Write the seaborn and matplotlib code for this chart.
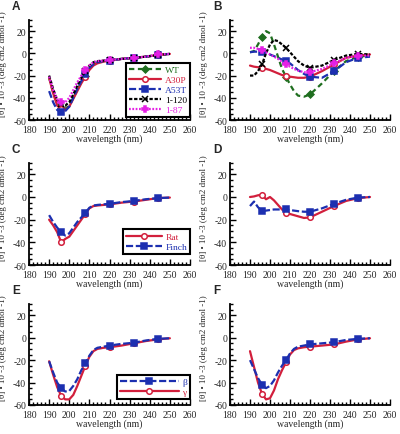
import seaborn as sns
from matplotlib import pyplot as plt
from matplotlib.lines import Line2D
from matplotlib.ticker import MultipleLocator

# wavelengths (nm) at which the curves were read, markers every 12 nm
wl = [190, 192, 194, 196, 198, 200, 202, 204, 206, 208, 210, 212, 214, 217, 220, 226, 232, 238, 244, 250]
mark_wl = [196, 208, 220, 232, 244]

# panel A: full-length protein variants
a_wt = [-22, -35, -45, -49, -50, -47, -40, -33, -26, -20, -14, -10, -8, -7, -6, -5, -4, -3, -1, -0.5]
a_a30p = [-22, -36, -47, -50, -51, -48, -41, -34, -27, -21, -15, -11, -9, -7.5, -6.5, -5, -4, -3, -1.5, -0.5]
a_a53t = [-34, -44, -51, -53, -52, -48, -40, -32, -25, -19, -13, -10, -8, -7, -6.5, -5, -4, -3, -1.5, -0.5]
a_120 = [-20, -32, -42, -46, -47, -44, -37, -29, -22, -16, -11, -8, -7, -6.5, -6, -5, -4, -3, -1.5, -0.5]
a_87 = [-21, -33, -41, -44, -44, -40, -33, -26, -20, -15, -11, -8, -7, -6.5, -6, -5, -4, -3, -1, -0.5]

# panel B
b_wt = [1, 2, 8, 15, 20, 18, 8, -3, -14, -21, -28, -34, -38, -39, -37, -27, -16, -7, -3, -2]
b_a30p = [-11, -12, -12.5, -13, -14, -15, -16.5, -18, -19.5, -20.5, -21, -21.5, -22, -22, -21, -16, -10, -4, -2, -1]
b_a53t = [1, 1.5, 1.5, 1, 0, -1, -2.5, -4, -5.5, -7, -9, -12, -15, -18.5, -21, -22, -16, -8, -4, -3]
b_120 = [-20, -20, -16, -10, 0, 8, 12, 11, 8, 5, 1, -3, -7, -11, -13, -11, -6, -2, -0.5, -1]
b_87 = [5, 5, 4, 3, 1, -1, -3, -5, -7.5, -10, -12, -14, -15.5, -17, -17, -14, -9, -4, -2, -2]

# panel C / D: rat vs finch
c_rat = [-20, -25, -31, -40, -37, -35, -30, -25, -20, -15, -10, -8, -7.5, -7, -6.5, -5, -4, -2.5, -1, -0.5]
c_finch = [-16, -22, -27, -31, -34, -32, -27, -22, -18, -14, -9.5, -7.5, -7, -6.5, -6, -4.5, -3.5, -2, -1, -0.5]
d_rat = [0, 0.5, 1.5, 2, -2, 0, -3, -7, -11, -14, -15, -16, -17, -18.5, -18, -13, -8, -3.5, -1, 0]
d_finch = [-8, -4, -9, -12.5, -12, -11.5, -11, -11, -11, -11, -11.5, -12, -12.5, -13, -13, -10, -6, -2.5, -0.5, 0]

# panel E / F: beta vs gamma
e_beta = [-21, -31, -40, -45, -48, -47.5, -43, -37, -29, -23, -16, -11, -9, -8, -7, -5.5, -4.5, -2.5, -1, -0.5]
e_gamma = [-21, -33, -44, -52, -55, -55, -51, -43, -34, -25, -17, -12, -10, -9, -8.5, -7, -5, -3, -1.5, -0.5]
f_beta = [-20, -28, -36, -42, -45, -43, -38, -31, -25, -20, -14, -10, -8, -7, -6, -5, -4, -2, -1, -0.5]
f_gamma = [-12, -26, -40, -50, -55, -54, -47, -37, -29, -22, -15, -11, -9.5, -8.5, -8, -7, -6, -3.5, -1.5, -0.5]

GREEN = '#1f6e1f'
RED = '#d21f3c'
BLUE = '#1c2fb0'
MAGENTA = '#e51fe5'

styles = {
    'WT': dict(color=GREEN, linestyle=(0, (2.4, 1.6)), marker='D', ms=3.5, mfc=GREEN, mec=GREEN),
    'A30P': dict(color=RED, linestyle='-', marker='o', ms=4, mfc='white', mec=RED),
    'A53T': dict(color=BLUE, linestyle=(0, (3.2, 1.2)), marker='s', ms=4, mfc=BLUE, mec=BLUE),
    '1-120': dict(color='black', linestyle=(0, (1.5, 0.8)), marker='x', ms=4, mfc='black', mec='black'),
    '1-87': dict(color=MAGENTA, linestyle=(0, (0.8, 0.7)), marker='P', ms=4.5, mfc=MAGENTA, mec=MAGENTA),
}
styles['Rat'] = styles['A30P']
styles['Finch'] = styles['A53T']
styles['γ'] = styles['A30P']
styles['β'] = styles['A53T']

sns.set_theme(style='ticks')
plt.rcParams['font.family'] = ['Liberation Serif', 'DejaVu Serif']
plt.rcParams['axes.unicode_minus'] = False

fig = plt.figure(figsize=(4.0, 4.35), dpi=100)

# axes boxes in figure fractions (left, bottom, width, height)
boxes = {
    'A': [0.0725, 0.7218, 0.4025, 0.2299],
    'B': [0.575, 0.7218, 0.40, 0.2299],
    'C': [0.0725, 0.3885, 0.4025, 0.2345],
    'D': [0.575, 0.3885, 0.40, 0.2345],
    'E': [0.0725, 0.0667, 0.4025, 0.232],
    'F': [0.575, 0.0667, 0.40, 0.232],
}

panels = {
    'A': [('WT', a_wt), ('A30P', a_a30p), ('A53T', a_a53t), ('1-120', a_120), ('1-87', a_87)],
    'B': [('WT', b_wt), ('A30P', b_a30p), ('A53T', b_a53t), ('1-120', b_120), ('1-87', b_87)],
    'C': [('Rat', c_rat), ('Finch', c_finch)],
    'D': [('Rat', d_rat), ('Finch', d_finch)],
    'E': [('γ', e_gamma), ('β', e_beta)],
    'F': [('γ', f_gamma), ('β', f_beta)],
}
# legend entries, vertical offset, handle length
legends = {'A': (['WT', 'A30P', 'A53T', '1-120', '1-87'], 0.03, 3.4),
           'C': (['Rat', 'Finch'], 0.11, 3.8),
           'E': (['β', 'γ'], 0.06, 6.2)}

every = [i for i, w in enumerate(wl) if w in mark_wl]

for key, box in boxes.items():
    ax = fig.add_axes(box)
    for name, vals in panels[key]:
        st = styles[name]
        sns.lineplot(x=wl, y=vals, ax=ax, color=st['color'], linestyle=st['linestyle'],
                     linewidth=1.6, marker=st['marker'], markersize=st['ms'],
                     markerfacecolor=st['mfc'], markeredgecolor=st['mec'],
                     markeredgewidth=1.1, markevery=every, errorbar=None)

    ax.set_xlim(180, 260)
    ax.set_ylim(-60, 30)
    ax.xaxis.set_major_locator(MultipleLocator(10))
    ax.xaxis.set_minor_locator(MultipleLocator(2))
    ax.set_yticks([-60, -40, -20, 0, 20])
    ax.yaxis.set_minor_locator(MultipleLocator(5))
    ax.tick_params(which='both', direction='in', width=1.0, labelsize=7, pad=2, color='black')
    ax.tick_params(axis='x', which='both', pad=3.5)
    ax.tick_params(which='major', length=4)
    ax.tick_params(which='minor', length=2)
    sns.despine(ax=ax)
    for s in ('left', 'bottom'):
        ax.spines[s].set_linewidth(1.3)
        ax.spines[s].set_color('black')
    ax.set_xlabel('wavelength (nm)', fontsize=7, labelpad=0)
    ax.set_ylabel('[θ] • 10 -3 (deg cm2 dmol -1)', fontsize=6.5)
    ax.yaxis.set_label_coords(-0.135, 0.57)
    ax.text(-0.08, 1.14, key, transform=ax.transAxes, fontsize=8.5, fontweight='bold',
            family='Liberation Sans', ha='center', va='center')

    if key in legends:
        names, yoff, hlen = legends[key]
        handles = []
        for name in names:
            st = styles[name]
            handles.append(Line2D([], [], color=st['color'], linestyle=st['linestyle'], linewidth=1.6,
                                  marker=st['marker'], markersize=st['ms'], markerfacecolor=st['mfc'],
                                  markeredgecolor=st['mec'], markeredgewidth=1.1))
        leg = ax.legend(handles, names, loc='lower right', bbox_to_anchor=(1.0, yoff),
                        fontsize=6.8, handlelength=hlen, handletextpad=0.4, labelspacing=0.15,
                        borderpad=0.3, borderaxespad=0, numpoints=1, fancybox=False,
                        framealpha=1, edgecolor='black', labelcolor='linecolor')
        leg.get_frame().set_linewidth(1.5)

fig.savefig('out.png', dpi=100)
